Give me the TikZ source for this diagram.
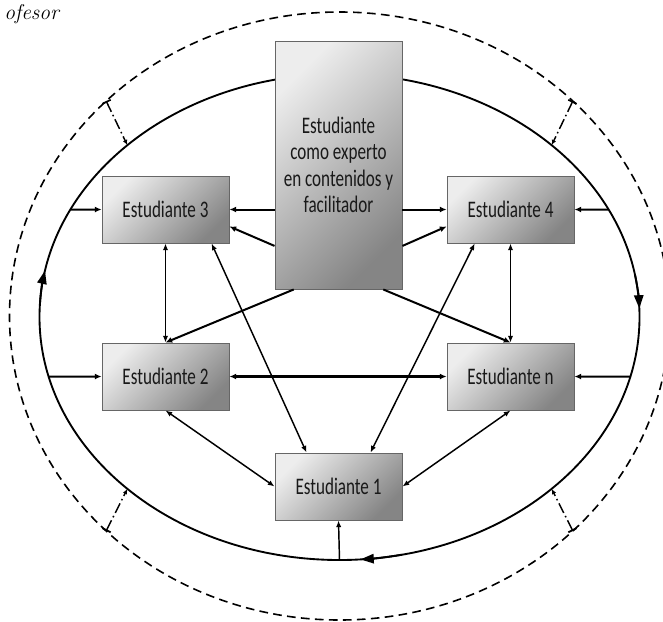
\documentclass[tikz,border=0pt]{standalone}
\usepackage{fontspec}
\newfontfamily\boxfont{Carlito}[FakeStretch=0.72]
\usetikzlibrary{arrows.meta,calc,shadows}
\tikzset{
	estbox/.style={draw=black!60, line width=0.7pt, top color=black!7, bottom color=black!48, shading angle=45,
		drop shadow={shadow xshift=1pt, shadow yshift=-1pt, opacity=0.35},
		minimum width=95.25pt, minimum height=50.25pt, inner sep=2pt, align=center,
		text=black!90, font=\boxfont\fontsize{17.8}{19.9}\selectfont},
	flecha/.style={line width=1.5pt, -{Latex[length=5pt,width=4.5pt]}},
	flechafina/.style={line width=1.1pt, -{Latex[length=5pt,width=4pt]}},
	doble/.style={line width=1.1pt, {Latex[length=5pt,width=4pt]}-{Latex[length=5pt,width=4pt]}},
	doblegruesa/.style={line width=1.6pt, {Latex[length=5pt,width=4.5pt]}-{Latex[length=5pt,width=4.5pt]}},
	giro/.style={line width=1.4pt, -{Triangle[length=10pt,width=7pt]}},
	rayita/.style={line width=1.1pt, dash pattern=on 8pt off 2.5pt on 1.2pt off 2.5pt,
		{Bar[width=7pt,line width=1.3pt]}-{Latex[length=4pt,width=3.5pt]}}
}

\begin{document}
\begin{tikzpicture}[x=0.75pt,y=-0.75pt]
	%%%%% START %%%%%
	\useasboundingbox (0,0) rectangle (663,621);

	\node[anchor=base west, inner sep=0pt, font=\itshape\fontsize{16}{19}\selectfont] (prof) at (4, 19) {ofesor};

	% ellipses
	\coordinate (oc) at (339.5, 316);
	\coordinate (ic) at (339.5, 317);
	\draw[line width=1.2pt, dash pattern=on 6.5pt off 4pt] (oc) ellipse [x radius=247.5pt, y radius=228pt];
	\draw[line width=1.4pt] (ic) ellipse [x radius=225pt, y radius=182.25pt];
	\draw[giro] (ic) ++(177:225pt and 182.25pt) arc (177:169:225pt and 182.25pt);
	\draw[giro] (ic) ++(10:225pt and 182.25pt) arc (10:2:225pt and 182.25pt);
	\draw[giro] (ic) ++(282:225pt and 182.25pt) arc (282:274:225pt and 182.25pt);

	\path (ic) ++(153.75:225pt and 182.25pt) coordinate (e3);
	\path (ic) ++(26.25:225pt and 182.25pt) coordinate (e4);
	\path (ic) ++(194.2:225pt and 182.25pt) coordinate (e2);
	\path (ic) ++(345.8:225pt and 182.25pt) coordinate (en);
	\path (ic) ++(270:225pt and 182.25pt) coordinate (e1);

	% dash dot links
	\path (oc) ++(135:247.5pt and 228pt) coordinate (o1);
	\path (ic) ++(135:225pt and 182.25pt) coordinate (i1);
	\path (oc) ++(45:247.5pt and 228pt) coordinate (o2);
	\path (ic) ++(45:225pt and 182.25pt) coordinate (i2);
	\path (oc) ++(225:247.5pt and 228pt) coordinate (o3);
	\path (ic) ++(225:225pt and 182.25pt) coordinate (i3);
	\path (oc) ++(315:247.5pt and 228pt) coordinate (o4);
	\path (ic) ++(315:225pt and 182.25pt) coordinate (i4);
	\draw[rayita] (o1) -- (i1);
	\draw[rayita] (o2) -- (i2);
	\draw[rayita] (o3) -- (i3);
	\draw[rayita] (o4) -- (i4);

	% boxes
	\node[estbox, minimum height=186pt] (central) at (338.5, 165) {Estudiante\\como experto\\en contenidos y\\facilitador};
	\node[estbox] (est3) at (165.5, 209.5) {Estudiante 3};
	\node[estbox] (est4) at (510.5, 209.5) {Estudiante 4};
	\node[estbox] (est2) at (165.5, 376.5) {Estudiante 2};
	\node[estbox] (estn) at (510.5, 376.5) {Estudiante n};
	\node[estbox] (est1) at (338.5, 486.5) {Estudiante 1};

	% links
	\draw[flecha] (central.west |- est3.east) -- (est3.east);
	\draw[flecha] ($(central.west)!0.65!(central.south west)$) -- ($(est3.east)!0.5!(est3.south east)$);
	\draw[flecha] (central.east |- est4.west) -- (est4.west);
	\draw[flecha] ($(central.east)!0.65!(central.south east)$) -- ($(est4.west)!0.5!(est4.south west)$);
	\draw[flecha] ($(central.south)!0.7!(central.south west)$) -- (est2.north);
	\draw[flecha] ($(central.south)!0.7!(central.south east)$) -- (estn.north);

	\draw[doble] (est3.south) -- (est2.north);
	\draw[doble] (est4.south) -- (estn.north);
	\draw[doble] ($(est3.south)!0.72!(est3.south east)$) -- ($(est1.north)!0.5!(est1.north west)$);
	\draw[doble] ($(est4.south)!0.56!(est4.south west)$) -- ($(est1.north)!0.5!(est1.north east)$);
	\draw[doble] (est2.south) -- (est1.west);
	\draw[doble] (estn.south) -- (est1.east);
	\draw[doblegruesa] (est2.east) -- (estn.west);

	\draw[flecha] (e3) -- (est3.west);
	\draw[flecha] (e2) -- (est2.west);
	\draw[flecha] (e4) -- (est4.east);
	\draw[flecha] (en) -- (estn.east);
	\draw[flechafina] (e1) -- (est1.south);

	%%%%% END %%%%%
\end{tikzpicture}
\end{document}
